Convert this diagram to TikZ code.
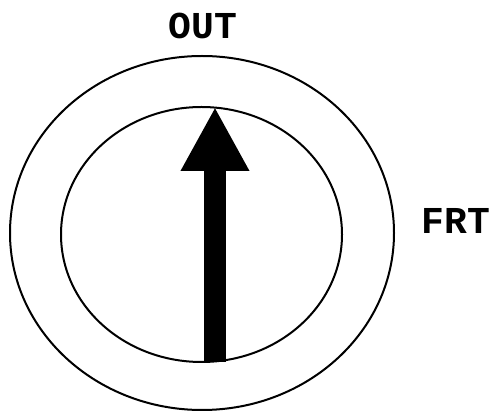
\documentclass[tikz,border=0pt]{standalone}
\usepackage{fontspec}
\setmonofont{Liberation Mono}
\usetikzlibrary{arrows.meta}
\tikzset{
  ring/.style={draw,line width=2pt},
  lbl/.style={font=\ttfamily\bfseries\fontsize{38}{38}\selectfont,inner sep=0pt},
  needle/.style={line width=22pt,-{Triangle[width=64pt,length=64pt]}}
}
\begin{document}
\begin{tikzpicture}[x=1pt,y=-1pt]
\useasboundingbox (0,0) rectangle (498,411);
\draw[ring] (202,233) ellipse [x radius=192,y radius=177];
\draw[ring] (201.5,234.5) ellipse [x radius=140.5,y radius=127.5];
\coordinate (tail) at (215,362);
\coordinate (tip) at (215,107);
\draw[needle] (tail) -- (tip);
\node[lbl] (out) at (203,26) {OUT};
\node[lbl] (frt) at (456,220.5) {FRT};
\end{tikzpicture}
\end{document}
